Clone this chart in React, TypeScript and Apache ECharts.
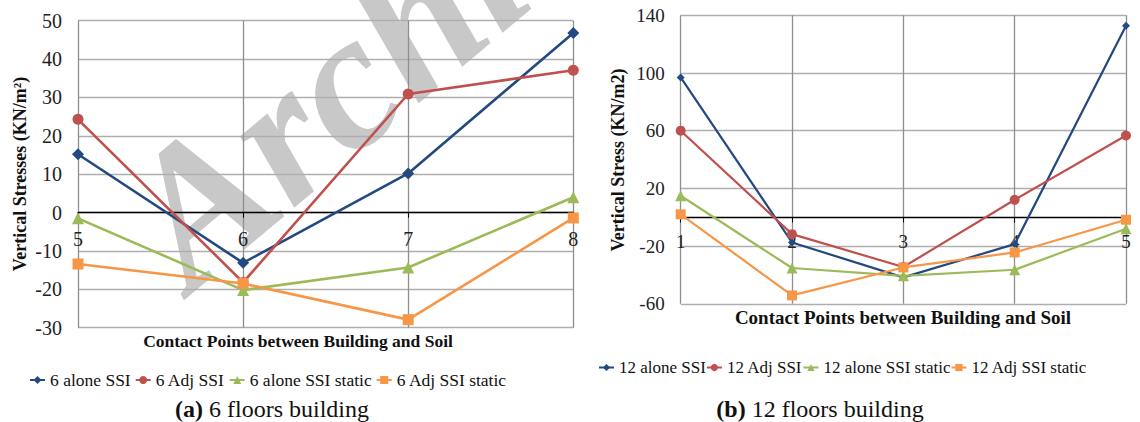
import React, { useEffect, useRef } from 'react';
import * as echarts from 'echarts';

// ---- data: (a) 6 floors building ----
const pointsA = [5, 6, 7, 8];
const alone6 = [15.2, -13.1, 10.2, 46.8];
const adj6 = [24.3, -18.2, 30.9, 37.1];
const aloneStatic6 = [-1.5, -20.2, -14.3, 4.0];
const adjStatic6 = [-13.4, -18.5, -27.9, -1.4];
const namesA = ['6 alone SSI', '6 Adj SSI', '6 alone SSI static', '6 Adj SSI static'];

// ---- data: (b) 12 floors building ----
const pointsB = [1, 2, 3, 4, 5];
const alone12 = [96.9, -17.5, -41.7, -18.6, 132.8];
const adj12 = [60.0, -11.7, -34.5, 12.1, 56.7];
const aloneStatic12 = [14.9, -35.2, -40.6, -36.4, -8.0];
const adjStatic12 = [2.0, -54.2, -34.8, -24.4, -1.7];
const namesB = ['12 alone SSI', '12 Adj SSI', '12 alone SSI static', '12 Adj SSI static'];

// right chart y tick labels start at -60 step 40
const yTicksB = [-60, -20, 20, 60, 100, 140];

const colors = ['#234A80', '#C0504D', '#9BBB59', '#F79646'];
const symbols = ['diamond', 'circle', 'triangle', 'rect'];
const FONT = 'Liberation Serif, Times New Roman, serif';

export default function App() {
  const ref = useRef<HTMLDivElement>(null);
  useEffect(() => {
    if (!ref.current) return;
    const chart = echarts.init(ref.current, undefined, { renderer: 'svg' });
    const dataA = [alone6, adj6, aloneStatic6, adjStatic6];
    const dataB = [alone12, adj12, aloneStatic12, adjStatic12];
    const sizeA = [12, 11, 12, 11];
    const sizeB = [8, 10, 11, 10];
    const offsetB = -yTicksB[0];

    const seriesA = dataA.map((vals, i) => ({
      type: 'line',
      name: namesA[i],
      xAxisIndex: 0,
      yAxisIndex: 0,
      data: pointsA.map((x, j) => [x, vals[j]]),
      symbol: symbols[i],
      symbolSize: sizeA[i],
      lineStyle: { width: 2.6, color: colors[i] },
      itemStyle: { color: colors[i] },
      z: 3 + i,
    }));
    const seriesB = dataB.map((vals, i) => ({
      type: 'line',
      name: namesB[i],
      xAxisIndex: 1,
      yAxisIndex: 1,
      data: pointsB.map((x, j) => [x, vals[j]]),
      symbol: symbols[i],
      symbolSize: sizeB[i],
      lineStyle: { width: 2.2, color: colors[i] },
      itemStyle: { color: colors[i] },
      z: 3 + i,
    }));

    const gridLine = { show: true, lineStyle: { color: '#AEAEAE', width: 1.4 } };
    const vGridLine = { show: true, lineStyle: { color: '#8E8E8E', width: 1.3 } };

    chart.setOption({
      animation: false,
      textStyle: { fontFamily: FONT },
      grid: [
        { left: 78, right: 1140 - 573.3, top: 20.7, bottom: 422 - 327.7 },
        { left: 680.7, right: 1140 - 1126, top: 15.3, bottom: 422 - 303.8 },
      ],
      xAxis: [
        {
          type: 'value', gridIndex: 0, min: 5, max: 8, interval: 1, position: 'bottom',
          offset: -(327.7 - 212.7),
          axisLine: { onZero: false, lineStyle: { color: '#000', width: 1.3 } },
          axisTick: { show: true, length: 5, lineStyle: { color: '#000' } },
          axisLabel: { fontSize: 20, margin: 16, color: '#222', fontFamily: FONT },
          splitLine: vGridLine,
        },
        {
          type: 'value', gridIndex: 1, min: 1, max: 5, interval: 1, position: 'bottom',
          offset: -(303.8 - 217.5),
          axisLine: { onZero: false, lineStyle: { color: '#000', width: 1.3 } },
          axisTick: { show: true, length: 5, lineStyle: { color: '#000' } },
          axisLabel: { fontSize: 19, margin: 14, color: '#222', fontFamily: FONT },
          splitLine: vGridLine,
        },
      ],
      yAxis: [
        {
          type: 'value', gridIndex: 0, min: -30, max: 50, interval: 10, position: 'left',
          axisLine: { show: false }, axisTick: { show: false },
          axisLabel: { fontSize: 20, margin: 16, color: '#222', fontFamily: FONT },
          splitLine: gridLine,
        },
        {
          type: 'value', gridIndex: 1, min: yTicksB[0], max: yTicksB[yTicksB.length - 1], position: 'left',
          axisLine: { show: false }, axisTick: { show: false },
          axisLabel: { show: false }, splitLine: { show: false },
        },
        {
          type: 'value', gridIndex: 1, min: 0, max: yTicksB[yTicksB.length - 1] + offsetB, interval: 40,
          position: 'left', offset: 0,
          axisLine: { show: false }, axisTick: { show: false },
          axisLabel: { fontSize: 19, margin: 16, color: '#222', fontFamily: FONT, formatter: (v: number) => String(v - offsetB) },
          splitLine: gridLine,
        },
      ],
      legend: [
        {
          data: namesA, left: 24, top: 366, itemWidth: 15, itemHeight: 10, itemGap: 4,
          textStyle: { fontSize: 17.5, color: '#111', fontFamily: FONT },
        },
        {
          data: namesB, left: 593, top: 354, itemWidth: 15, itemHeight: 9, itemGap: 0,
          textStyle: { fontSize: 17, color: '#111', fontFamily: FONT },
        },
      ],
      graphic: [
        {
          type: 'text', x: 212, y: 318, rotation: (40 * Math.PI) / 180, z: -10, silent: true,
          style: {
            text: 'Archive of SID', fontSize: 195, fontStyle: 'italic', fontWeight: 'bold',
            fontFamily: FONT, fill: '#C8C8C8', textAlign: 'left', textVerticalAlign: 'bottom',
          },
        },
        {
          type: 'text', x: 20, y: 174, rotation: Math.PI / 2,
          style: { text: 'Vertical Stresses (KN/m²)', fontSize: 18, fontWeight: 'bold', fontFamily: FONT, fill: '#111', textAlign: 'center', textVerticalAlign: 'middle' },
        },
        {
          type: 'text', x: 618, y: 160, rotation: Math.PI / 2,
          style: { text: 'Vertical Stress (KN/m2)', fontSize: 18, fontWeight: 'bold', fontFamily: FONT, fill: '#111', textAlign: 'center', textVerticalAlign: 'middle' },
        },
        {
          type: 'text', x: 298, y: 341,
          style: { text: 'Contact Points between Building and Soil', fontSize: 17.5, fontWeight: 'bold', fontFamily: FONT, fill: '#111', textAlign: 'center', textVerticalAlign: 'middle' },
        },
        {
          type: 'text', x: 903, y: 317,
          style: { text: 'Contact Points between Building and Soil', fontSize: 19, fontWeight: 'bold', fontFamily: FONT, fill: '#111', textAlign: 'center', textVerticalAlign: 'middle' },
        },
        {
          type: 'text', x: 272, y: 409,
          style: {
            text: '{b|(a)} 6 floors building', fontSize: 24, fontFamily: FONT, fill: '#111', textAlign: 'center', textVerticalAlign: 'middle',
            rich: { b: { fontWeight: 'bold', fontSize: 24, fontFamily: FONT, fill: '#111' } },
          },
        },
        {
          type: 'text', x: 820, y: 409,
          style: {
            text: '{b|(b)} 12 floors building', fontSize: 24, fontFamily: FONT, fill: '#111', textAlign: 'center', textVerticalAlign: 'middle',
            rich: { b: { fontWeight: 'bold', fontSize: 24, fontFamily: FONT, fill: '#111' } },
          },
        },
      ],
      series: [...seriesA, ...seriesB],
    });
    return () => chart.dispose();
  }, []);
  return (
    <div
      ref={ref}
      style={{ position: 'fixed', left: 0, top: 0, width: 1140, height: 422, background: '#fff' }}
    />
  );
}
